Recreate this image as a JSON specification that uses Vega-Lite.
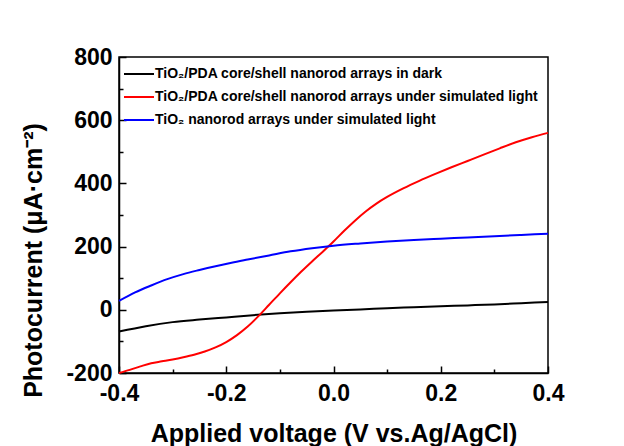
{
  "$schema": "https://vega.github.io/schema/vega-lite/v6.json",
  "width": 429,
  "height": 316,
  "autosize": "none",
  "padding": {"left": 119, "top": 57, "right": 76, "bottom": 73},
  "background": "white",
  "config": {
    "view": {"stroke": "black", "strokeWidth": 1.5},
    "font": "Liberation Sans",
    "axis": {
      "grid": false,
      "domainColor": "black", "domainWidth": 1.5,
      "tickColor": "black", "tickWidth": 1.5,
      "labelFont": "Liberation Sans", "labelFontSize": 23, "labelFontWeight": "bold", "labelColor": "black",
      "labelFlush": false, "labelOverlap": false,
      "titleFont": "Liberation Sans", "titleFontSize": 25, "titleFontWeight": "bold", "titleColor": "black"
    }
  },
  "data": {
    "values": [
      {"s": "a", "v": -0.4, "i": -69}, {"s": "a", "v": -0.35, "i": -52}, {"s": "a", "v": -0.3, "i": -39},
      {"s": "a", "v": -0.25, "i": -31}, {"s": "a", "v": -0.2, "i": -24}, {"s": "a", "v": -0.15, "i": -17},
      {"s": "a", "v": -0.1, "i": -11}, {"s": "a", "v": -0.05, "i": -6}, {"s": "a", "v": 0.0, "i": -2},
      {"s": "a", "v": 0.05, "i": 1}, {"s": "a", "v": 0.1, "i": 5}, {"s": "a", "v": 0.15, "i": 8},
      {"s": "a", "v": 0.2, "i": 11}, {"s": "a", "v": 0.25, "i": 14}, {"s": "a", "v": 0.3, "i": 17},
      {"s": "a", "v": 0.35, "i": 21}, {"s": "a", "v": 0.4, "i": 25},

      {"s": "b", "v": -0.4, "i": -200}, {"s": "b", "v": -0.38, "i": -190}, {"s": "b", "v": -0.36, "i": -179},
      {"s": "b", "v": -0.34, "i": -169}, {"s": "b", "v": -0.32, "i": -163}, {"s": "b", "v": -0.3, "i": -157},
      {"s": "b", "v": -0.28, "i": -150}, {"s": "b", "v": -0.26, "i": -142}, {"s": "b", "v": -0.24, "i": -132},
      {"s": "b", "v": -0.22, "i": -119}, {"s": "b", "v": -0.2, "i": -102}, {"s": "b", "v": -0.18, "i": -80},
      {"s": "b", "v": -0.16, "i": -53}, {"s": "b", "v": -0.14, "i": -20}, {"s": "b", "v": -0.12, "i": 16},
      {"s": "b", "v": -0.1, "i": 52}, {"s": "b", "v": -0.08, "i": 87}, {"s": "b", "v": -0.06, "i": 121},
      {"s": "b", "v": -0.04, "i": 153}, {"s": "b", "v": -0.02, "i": 184}, {"s": "b", "v": 0.0, "i": 216},
      {"s": "b", "v": 0.02, "i": 250}, {"s": "b", "v": 0.04, "i": 282}, {"s": "b", "v": 0.06, "i": 311},
      {"s": "b", "v": 0.08, "i": 336}, {"s": "b", "v": 0.1, "i": 357}, {"s": "b", "v": 0.13, "i": 384},
      {"s": "b", "v": 0.16, "i": 408}, {"s": "b", "v": 0.19, "i": 430}, {"s": "b", "v": 0.22, "i": 451},
      {"s": "b", "v": 0.25, "i": 471}, {"s": "b", "v": 0.28, "i": 491}, {"s": "b", "v": 0.31, "i": 511},
      {"s": "b", "v": 0.34, "i": 530}, {"s": "b", "v": 0.37, "i": 546}, {"s": "b", "v": 0.4, "i": 560},

      {"s": "c", "v": -0.4, "i": 28}, {"s": "c", "v": -0.37, "i": 55}, {"s": "c", "v": -0.34, "i": 77},
      {"s": "c", "v": -0.31, "i": 97}, {"s": "c", "v": -0.28, "i": 113}, {"s": "c", "v": -0.25, "i": 126},
      {"s": "c", "v": -0.22, "i": 138}, {"s": "c", "v": -0.19, "i": 149}, {"s": "c", "v": -0.16, "i": 159},
      {"s": "c", "v": -0.12, "i": 172}, {"s": "c", "v": -0.08, "i": 185}, {"s": "c", "v": -0.04, "i": 195},
      {"s": "c", "v": 0.0, "i": 203}, {"s": "c", "v": 0.05, "i": 210}, {"s": "c", "v": 0.1, "i": 216},
      {"s": "c", "v": 0.15, "i": 221}, {"s": "c", "v": 0.2, "i": 225}, {"s": "c", "v": 0.25, "i": 229},
      {"s": "c", "v": 0.3, "i": 233}, {"s": "c", "v": 0.35, "i": 237}, {"s": "c", "v": 0.4, "i": 241}
    ]
  },
  "layer": [
    {
      "mark": {"type": "line", "strokeWidth": 2, "interpolate": "monotone"},
      "encoding": {
        "x": {
          "field": "v", "type": "quantitative",
          "scale": {"domain": [-0.4, 0.4], "nice": false, "zero": false},
          "axis": {
            "orient": "bottom",
            "title": "Applied voltage (V vs.Ag/AgCl)",
            "values": [-0.4, -0.2, 0, 0.2, 0.4],
            "labelExpr": "replace(format(datum.value, '.1f'), '\u2212', '-')",
            "ticks": false, "tickSize": 0,
            "labelPadding": 9,
            "titleY": 68, "titleBaseline": "alphabetic"
          }
        },
        "y": {
          "field": "i", "type": "quantitative",
          "scale": {"domain": [-200, 800], "nice": false, "zero": false},
          "axis": {
            "orient": "left",
            "title": "Photocurrent (\u03bcA\u00b7cm\u207b\u00b2)",
            "values": [-200, 0, 200, 400, 600, 800],
            "labelExpr": "replace(format(datum.value, 'd'), '\u2212', '-')",
            "ticks": false, "tickSize": 0,
            "labelPadding": 7,
            "titleX": -86, "titleY": 203, "titleBaseline": "middle", "titleAlign": "center", "titleAngle": 270
          }
        },
        "color": {
          "field": "s", "type": "nominal",
          "scale": {"domain": ["a", "b", "c"], "range": ["#000000", "#ff0000", "#0000ff"]},
          "legend": {
            "title": null,
            "orient": "none", "legendX": 4, "legendY": 1,
            "padding": 0,
            "symbolType": "stroke", "symbolSize": 900, "symbolStrokeWidth": 2,
            "rowPadding": -13,
            "labelOffset": 0,
            "labelFont": "Liberation Sans", "labelFontSize": 14, "labelFontWeight": "bold", "labelColor": "black",
            "labelLimit": 500,
            "labelExpr": "datum.value == 'a' ? 'TiO\u2082/PDA core/shell nanorod arrays in dark' : datum.value == 'b' ? 'TiO\u2082/PDA core/shell nanorod arrays under simulated light' : 'TiO\u2082 nanorod arrays under simulated light'"
          }
        }
      }
    },
    {
      "mark": {"type": "line", "strokeOpacity": 0},
      "encoding": {
        "x": {
          "field": "v", "type": "quantitative",
          "axis": {
            "orient": "top", "offset": -316, "title": null, "labels": false, "domain": false,
            "values": [-0.4, -0.2, 0, 0.2, 0.4],
            "tickSize": 7
          }
        },
        "y": {
          "field": "i", "type": "quantitative",
          "axis": {
            "orient": "right", "offset": -429, "title": null, "labels": false, "domain": false,
            "values": [-200, 0, 200, 400, 600, 800],
            "tickSize": 7
          }
        },
        "detail": {"field": "s"}
      }
    },
    {
      "mark": {"type": "line", "strokeOpacity": 0},
      "encoding": {
        "x": {
          "field": "v", "type": "quantitative",
          "axis": {
            "orient": "top", "offset": -316, "title": null, "labels": false, "domain": false,
            "values": [-0.3, -0.1, 0.1, 0.3],
            "tickSize": 4
          }
        },
        "y": {
          "field": "i", "type": "quantitative",
          "axis": {
            "orient": "right", "offset": -429, "title": null, "labels": false, "domain": false,
            "values": [-100, 100, 300, 500, 700],
            "tickSize": 4
          }
        },
        "detail": {"field": "s"}
      }
    }
  ],
  "resolve": {"axis": {"x": "independent", "y": "independent"}}
}
